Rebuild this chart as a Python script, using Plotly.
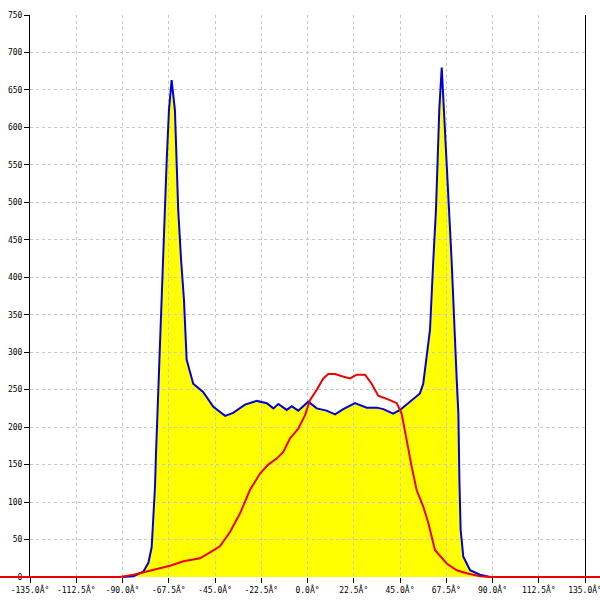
import plotly.graph_objects as go

# ---- data ----
tick_angles = [-135.0, -112.5, -90.0, -67.5, -45.0, -22.5, 0.0, 22.5, 45.0, 67.5, 90.0, 112.5, 135.0]
tick_labels = ["%.1fÂ°" % a for a in tick_angles]
y_ticks = list(range(0, 751, 50))

blue_angles = [-90, -84.7, -79.9, -77.4, -75.8, -75.0, -74.2, -73.7, -73.1, -71.8, -70.4, -69.7,
               -68.5, -67.4, -66.1, -64.5, -63.7, -62.9, -61.5, -60.1, -58.8, -55.6, -50.8, -45.8,
               -40.1, -36.2, -30.4, -24.7, -19.8, -16.6, -14.2, -10.1, -7.7, -4.5, 0.4, 4.5, 9.3,
               13.4, 17.4, 23.1, 28.8, 33.7, 36.9, 41.7, 45.0, 49.9, 53.1, 54.7, 56.3, 59.6, 61.2,
               62.5, 63.3, 64.1, 65.3, 66.4, 67.7, 68.8, 70.1, 72.6, 73.4, 73.9, 74.5, 75.8, 79.1,
               83.9, 88.8]
blue_counts = [0, 1, 7, 19, 40, 76, 120, 165, 210, 330, 423, 490,
               556, 623, 663, 623, 556, 490, 423, 370, 290, 258, 247, 227,
               215, 219, 230, 235, 232, 225, 231, 223, 228, 222, 234, 225, 222,
               217, 224, 232, 226, 226, 224, 218, 223, 234, 241, 245, 258, 330, 423,
               490, 556, 623, 680, 623, 556, 490, 423, 263, 218, 129, 63, 27, 9,
               3, 0]

red_angles = [-150, -91.2, -84.7, -75.0, -66.9, -60.4, -52.3, -47.4, -42.6, -37.7, -32.8, -28.0,
              -23.1, -19.1, -15.0, -11.8, -8.5, -6.9, -4.5, -1.2, 1.2, 4.5, 7.7, 10.1, 13.4,
              16.8, 20.7, 23.9, 28.0, 31.2, 34.4, 40.1, 43.4, 45.8, 48.3, 50.7, 53.1, 56.3, 58.8,
              62.0, 67.7, 72.6, 77.4, 83.9, 88.8, 143]
red_counts = [0, 0, 3, 9, 15, 21, 25, 33, 41, 60, 85, 116,
              138, 150, 158, 167, 185, 190, 198, 216, 236, 250, 265, 271, 271,
              268, 265, 270, 270, 258, 242, 236, 232, 218, 180, 147, 116, 94, 72,
              36, 18, 9, 5, 1, 0, 0]

# ---- figure ----
fig = go.Figure()
# subplot 1: yellow fill (under the grid)
fig.add_trace(go.Scatter(x=blue_angles, y=blue_counts, mode="lines", fill="tozeroy",
                         fillcolor="#ffff00", line=dict(width=0, color="#ffff00"),
                         xaxis="x", yaxis="y", hoverinfo="skip", showlegend=False))
# subplot 3: the lines (above the grid)
fig.add_trace(go.Scatter(x=blue_angles, y=blue_counts, mode="lines",
                         line=dict(width=2, color="#0000dd"),
                         xaxis="x3", yaxis="y3", showlegend=False))
fig.add_trace(go.Scatter(x=red_angles, y=red_counts, mode="lines",
                         line=dict(width=2, color="#ee0000"),
                         xaxis="x3", yaxis="y3", showlegend=False))
# subplot 2: axes and grid only
fig.add_trace(go.Scatter(x=[None], y=[None], xaxis="x2", yaxis="y2", showlegend=False))

full_x_range = [-149.6, 142.3]
full_y_range = [-4, 750]
tickfont = dict(family="DejaVu Sans Mono", size=8, color="black")
grid_col = "#c8c8c8"

hidden = dict(visible=False, fixedrange=True, automargin=False)
fig.update_layout(
    width=600, height=600, autosize=False,
    margin=dict(l=0, r=0, t=15, b=20, autoexpand=False),
    paper_bgcolor="white", plot_bgcolor="rgba(0,0,0,0)",
    showlegend=False,
    xaxis=dict(domain=[0, 1], range=full_x_range, anchor="y", **hidden),
    yaxis=dict(domain=[0, 1], range=full_y_range, anchor="x", **hidden),
    xaxis3=dict(domain=[0, 1], range=full_x_range, anchor="y3", **hidden),
    yaxis3=dict(domain=[0, 1], range=full_y_range, anchor="x3", **hidden),
    xaxis2=dict(domain=[0.05, 0.975], anchor="y2", range=[-135, 135],
                tickmode="array", tickvals=tick_angles, ticktext=tick_labels,
                showgrid=True, gridcolor=grid_col, griddash="3px,3px", gridwidth=1,
                ticks="outside", ticklen=5, tickcolor="black", tickwidth=1,
                tickfont=tickfont, showline=False, zeroline=False, fixedrange=True,
                automargin=False, ticklabeloverflow="allow"),
    yaxis2=dict(domain=[3 / 565, 1], anchor="x2", range=[0, 750],
                tickmode="array", tickvals=y_ticks, ticktext=[str(v) for v in y_ticks],
                showgrid=True, gridcolor=grid_col, griddash="3px,3px", gridwidth=1,
                ticks="outside", ticklen=5, tickcolor="black", tickwidth=1,
                tickfont=tickfont, showline=True, linecolor="black", linewidth=1,
                mirror=True, zeroline=False, fixedrange=True, automargin=False,
                ticklabeloverflow="allow"),
)

fig.write_html("out.html", config={"displayModeBar": False},
               post_script="document.body.style.margin='0';document.body.style.overflow='hidden';")
